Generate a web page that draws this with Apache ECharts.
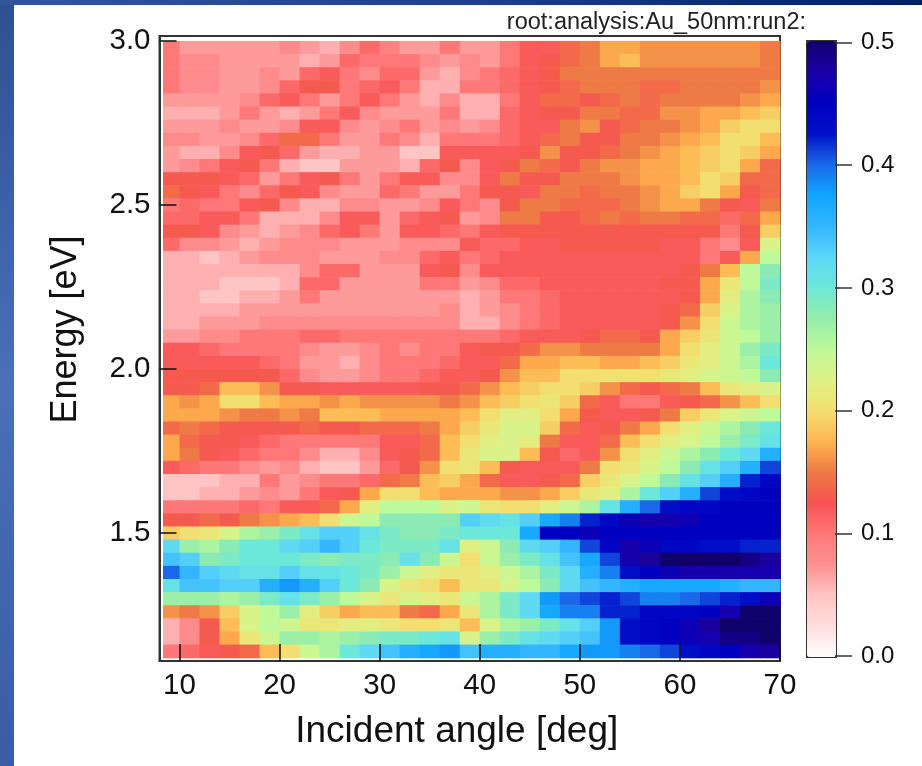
<!DOCTYPE html>
<html>
<head>
<meta charset="utf-8">
<style>html,body{margin:0;padding:0;background:#fff}#c{width:922px;height:766px}</style>
<script src="https://cdn.jsdelivr.net/npm/echarts@6/dist/echarts.min.js"></script>
</head>
<body>
<div id="c"></div>
<script>
const angles = [9,11,13,15,17,19,21,23,25,27,29,31,33,35,37,39,41,43,45,47,49,51,53,55,57,59,61,63,65,67,69];
const energies = [2.98,2.94,2.90,2.86,2.82,2.78,2.74,2.70,2.66,2.62,2.58,2.54,2.50,2.46,2.42,2.38,2.34,2.30,2.26,2.22,2.18,2.14,2.10,2.06,2.02,1.98,1.94,1.90,1.86,1.82,1.78,1.74,1.70,1.66,1.62,1.58,1.54,1.50,1.46,1.42,1.38,1.34,1.30,1.26,1.22,1.18,1.14];
// signal, in hundredths; one row per energy, top to bottom
const signal = [
[10,7,7,7,7,7,8,7,6,8,11,9,7,7,10, 7,7,10,12,12,14,15,17,17,16,16,16,16,16,16,15],
[10,8,8,7,7,7,7,6,7,11,10,10,10,8,7, 8,7,10,12,13,14,15,17,18,16,16,16,16,16,16,15],
[10,8,8,7,7,8,7,11,12,10,8,11,11,7,6, 8,10,11,12,13,15,15,15,15,15,15,15,15,15,15,15],
[10,8,8,7,7,8,11,13,13,10,11,12,10,6,6, 10,10,11,12,13,14,15,15,15,14,14,15,15,15,15,16],
[7,7,7,7,8,11,12,10,7,10,12,10,7,6,8, 6,6,10,12,14,14,13,14,15,14,15,15,15,15,16,17],
[6,6,6,7,10,7,6,7,10,12,8,7,7,7,10, 6,6,11,12,13,13,15,15,14,14,16,16,17,17,18,19],
[7,7,7,8,7,7,8,12,12,8,7,8,10,7,8, 7,8,11,12,12,15,16,13,14,15,15,16,17,19,20,20],
[8,8,7,7,8,11,14,14,10,7,7,10,8,6,10, 10,10,11,12,14,15,13,13,15,15,16,17,18,20,20,18],
[7,6,6,8,12,13,11,7,6,6,7,7,5,5,12, 12,12,12,13,16,13,13,14,15,16,17,18,19,20,19,17],
[7,8,10,12,13,10,6,5,5,7,7,7,6,11,13, 8,12,13,15,14,13,15,16,16,17,17,18,19,20,17,14],
[13,13,13,12,11,7,10,12,13,10,7,10,12,12,8, 8,12,15,13,13,15,15,15,16,17,17,18,20,19,14,14],
[14,13,12,10,8,11,13,12,8,7,7,11,10,7,7, 10,13,13,12,15,15,14,15,15,16,17,19,20,17,13,14],
[10,11,10,10,12,13,8,6,6,8,8,7,7,8,12, 10,8,13,15,15,14,14,14,15,16,17,17,15,13,12,15],
[11,11,12,12,10,6,6,6,8,12,12,7,11,12,13, 7,8,15,15,13,13,14,15,14,15,15,14,14,11,14,17],
[13,13,12,8,7,6,7,8,11,12,10,7,12,12,11, 10,12,13,13,13,13,13,13,13,13,13,13,13,10,13,19],
[11,8,8,7,6,7,8,8,8,7,7,7,8,8,8, 12,11,11,12,12,13,13,13,13,13,12,12,10,8,12,23],
[6,6,5,6,7,8,8,8,7,7,7,8,8,11,12, 10,11,12,12,12,12,12,12,12,12,12,12,10,12,17,25],
[6,6,6,6,6,6,6,8,11,11,7,7,7,12,13, 8,12,12,12,12,12,12,12,12,12,12,13,15,18,25,28],
[6,6,6,5,5,5,6,11,11,7,7,7,7,10,10, 7,8,11,11,12,12,12,12,12,12,13,13,17,21,25,29],
[6,6,5,5,6,6,7,10,7,7,7,7,7,7,7, 6,7,10,10,11,12,12,12,12,12,12,13,17,22,26,28],
[6,6,6,6,7,7,7,7,7,7,7,7,7,7,8, 6,7,8,10,11,12,12,12,12,12,13,14,19,23,26,27],
[6,6,7,7,7,8,8,8,8,8,8,8,8,8,8, 6,6,8,10,11,12,12,12,12,12,13,16,20,24,26,27],
[7,7,8,8,10,10,10,11,11,10,10,10,10,10,10, 10,10,11,12,12,12,13,14,14,13,17,19,21,24,25,27],
[12,12,11,10,10,10,10,8,7,7,8,10,8,10,10, 12,13,13,14,16,16,15,15,15,15,17,20,22,24,27,29],
[12,12,12,12,12,11,10,7,7,6,8,10,10,10,11, 12,12,14,17,17,18,18,17,17,18,19,21,22,24,26,30],
[13,13,13,13,13,13,11,8,7,7,8,10,10,11,12, 12,13,16,18,18,20,20,20,20,20,21,22,23,24,25,28],
[13,13,14,18,18,16,13,13,12,12,12,12,12,13,13, 14,16,18,19,20,20,19,16,14,13,14,15,18,21,22,23],
[17,16,17,20,20,18,17,17,16,17,16,16,16,16,15, 16,18,19,20,21,19,14,12,10,10,12,13,14,16,18,20],
[17,17,17,16,15,15,16,15,18,18,18,17,17,17,17, 18,20,22,22,20,17,13,12,12,13,15,19,21,23,24,25],
[14,15,14,13,13,13,13,14,13,13,14,14,14,15,17, 19,21,23,23,19,14,12,13,15,17,20,22,24,26,28,30],
[17,14,13,13,12,11,10,10,10,10,10,12,12,14,18, 20,22,23,22,15,12,12,14,18,20,22,23,25,27,29,31],
[17,15,13,12,11,10,10,8,6,6,8,12,13,14,18, 21,23,23,18,13,11,12,16,20,22,24,26,28,30,32,36],
[12,11,10,10,8,7,8,6,5,5,7,11,13,16,20, 21,18,13,12,12,12,15,20,21,23,25,28,31,33,36,41],
[5,5,5,6,6,10,7,8,10,10,11,14,15,18,19, 17,14,12,12,13,14,19,21,23,25,28,31,33,36,42,44],
[5,5,6,6,7,8,7,10,12,13,17,20,20,18,17, 17,17,16,16,17,19,21,22,26,30,33,36,41,43,44,45],
[10,10,10,10,11,10,12,12,14,17,22,25,25,25,23, 24,21,20,20,22,24,26,31,36,40,43,44,44,45,45,45],
[13,13,14,13,15,16,17,18,20,24,25,28,28,28,28, 33,32,31,33,37,39,42,44,46,47,47,46,45,45,45,45],
[19,20,21,23,26,27,29,31,33,33,31,29,28,28,29, 30,30,30,37,45,45,46,45,45,45,45,45,45,45,45,45],
[32,27,26,28,30,30,32,33,35,33,30,29,29,29,31, 22,24,28,32,33,35,41,44,47,46,44,44,43,43,42,42],
[34,33,28,29,30,30,30,29,28,29,29,28,31,28,24, 20,24,27,29,31,34,37,41,47,48,50,50,50,50,49,48],
[40,35,33,32,31,31,33,31,31,30,29,27,24,22,21, 21,22,24,26,29,32,36,39,43,45,46,47,47,47,47,47],
[31,34,34,33,33,36,38,36,33,30,28,23,21,20,18, 21,21,23,25,28,32,34,35,36,37,37,37,37,36,35,35],
[27,27,27,26,27,29,31,29,27,25,23,21,23,22,21, 24,26,29,32,38,40,41,42,41,39,39,40,41,42,43,46],
[16,15,16,19,23,25,27,22,19,17,18,18,15,14,17, 21,26,29,32,37,39,39,42,42,44,44,44,45,47,50,50],
[6,8,13,18,23,25,24,21,21,22,22,21,20,20,21, 18,23,26,27,29,31,33,38,43,44,45,46,48,50,50,50],
[6,8,13,17,21,24,27,27,26,27,28,29,29,30,31, 23,27,29,31,32,33,34,38,43,44,45,46,47,49,49,50],
[10,11,12,13,14,18,20,24,26,30,32,34,36,37,38, 34,36,36,35,35,37,38,38,39,40,41,43,44,45,47,48]
];
const xTicks = [10,20,30,40,50,60,70];
const yTicks = [1.5,2.0,2.5,3.0];
const barTicks = [0,0.1,0.2,0.3,0.4,0.5];
const palette = ['#ffffff','#ffdddd','#ffc4c4','#fc9090','#ff7878','#f75252','#ee7a45','#ffb550','#f2df70','#def285','#bef99a','#94ecab','#6ce8d8','#5cd6f8','#33b5ff','#10a5ff','#1a68e8','#0010c8','#0000c0','#1c00a8','#10006a'];

const cells = [];
signal.forEach((row, r) => row.forEach((v, c) => cells.push([angles[c], energies[r], v / 100])));

const FONT = '"Liberation Sans", Arial, sans-serif';
const INK = '#111';
const FRAME = '#333';
const HEAT_LEFT = 8.35;

const chart = echarts.init(document.getElementById('c'), null, {renderer: 'canvas'});
chart.setOption({
  animation: false,
  backgroundColor: '#ffffff',
  textStyle: {fontFamily: FONT},
  title: {
    text: 'root:analysis:Au_50nm:run2:',
    right: 111, top: 6,
    textStyle: {fontFamily: FONT, fontSize: 23.5, fontWeight: 'normal', color: '#222'}
  },
  graphic: [
    {type: 'rect', z: -10, silent: true, shape: {x: 0, y: 0, width: 14, height: 766},
      style: {fill: new echarts.graphic.LinearGradient(0, 0, 0, 1, [{offset: 0, color: '#2f5090'}, {offset: 0.5, color: '#4a70b8'}, {offset: 1, color: '#3a5ca2'}])}},
    {type: 'rect', z: -10, silent: true, shape: {x: 0, y: 0, width: 922, height: 5},
      style: {fill: new echarts.graphic.LinearGradient(0, 0, 1, 0, [{offset: 0, color: '#345599'}, {offset: 0.5, color: '#1d4285'}, {offset: 1, color: '#002060'}])}}
  ],
  grid: [
    {left: 159.5, top: 36, width: 620.5, height: 625, show: true, backgroundColor: '#fff', borderColor: FRAME, borderWidth: 2},
    {left: 806, top: 42.5, width: 29, height: 613.5, show: false}
  ],
  xAxis: [
    {
      type: 'value', gridIndex: 0, min: 8, max: 70, z: 10,
      name: 'Incident angle [deg]', nameLocation: 'middle', nameGap: 52,
      nameTextStyle: {fontFamily: FONT, fontSize: 37, color: INK, padding: [0, 26, 0, 0]},
      splitLine: {show: false},
      axisLine: {show: true, lineStyle: {color: FRAME, width: 2}},
      axisTick: {show: true, inside: true, length: 17, customValues: xTicks, lineStyle: {color: INK, width: 1.5}},
      axisLabel: {show: true, customValues: xTicks, fontFamily: FONT, fontSize: 29.5, color: INK, margin: 10, formatter: v => String(v)}
    },
    {type: 'value', gridIndex: 1, min: 0, max: 1, show: false}
  ],
  yAxis: [
    {
      type: 'value', gridIndex: 0, min: 1.11, max: 3.015, z: 10,
      name: 'Energy [eV]', nameLocation: 'middle', nameGap: 75, nameRotate: 90,
      nameTextStyle: {fontFamily: FONT, fontSize: 36, color: INK, padding: [0, 0, 0, 38]},
      splitLine: {show: false},
      axisLine: {show: true, onZero: false, lineStyle: {color: FRAME, width: 2}},
      axisTick: {show: true, inside: true, length: 17, customValues: yTicks, lineStyle: {color: INK, width: 1.5}},
      axisLabel: {show: true, customValues: yTicks, fontFamily: FONT, fontSize: 29.5, color: INK, margin: 9, formatter: v => v.toFixed(1)}
    },
    {
      type: 'value', gridIndex: 1, min: 0, max: 0.5, position: 'right', z: 10,
      splitLine: {show: false},
      axisLine: {show: false, onZero: false},
      axisTick: {show: true, inside: false, length: 17, customValues: barTicks, lineStyle: {color: '#333', width: 1.5}},
      axisLabel: {show: true, customValues: barTicks, fontFamily: FONT, fontSize: 24, color: INK, margin: 26, formatter: v => v.toFixed(1)}
    }
  ],
  visualMap: {
    type: 'continuous', seriesIndex: 0, dimension: 2, min: 0, max: 0.5,
    calculable: false, hoverLink: false, realtime: false, showLabel: false, text: null,
    left: 806, top: 40, itemWidth: 29, itemHeight: 616, padding: 0,
    inRange: {color: palette},
    borderColor: FRAME, borderWidth: 2
  },
  series: [
    {
      type: 'custom', xAxisIndex: 0, yAxisIndex: 0, coordinateSystem: 'cartesian2d',
      data: cells, encode: {x: 0, y: 1}, silent: true, clip: true,
      renderItem: (params, api) => {
        const x = api.value(0), y = api.value(1);
        const a = api.coord([Math.max(x - 1, HEAT_LEFT), y + 0.02]);
        const b = api.coord([x + 1, y - 0.02]);
        return {type: 'rect', shape: {x: a[0], y: a[1], width: b[0] - a[0] + 0.6, height: b[1] - a[1] + 0.6}, style: {fill: api.visual('color')}};
      }
    }
  ]
});
</script>
</body>
</html>
